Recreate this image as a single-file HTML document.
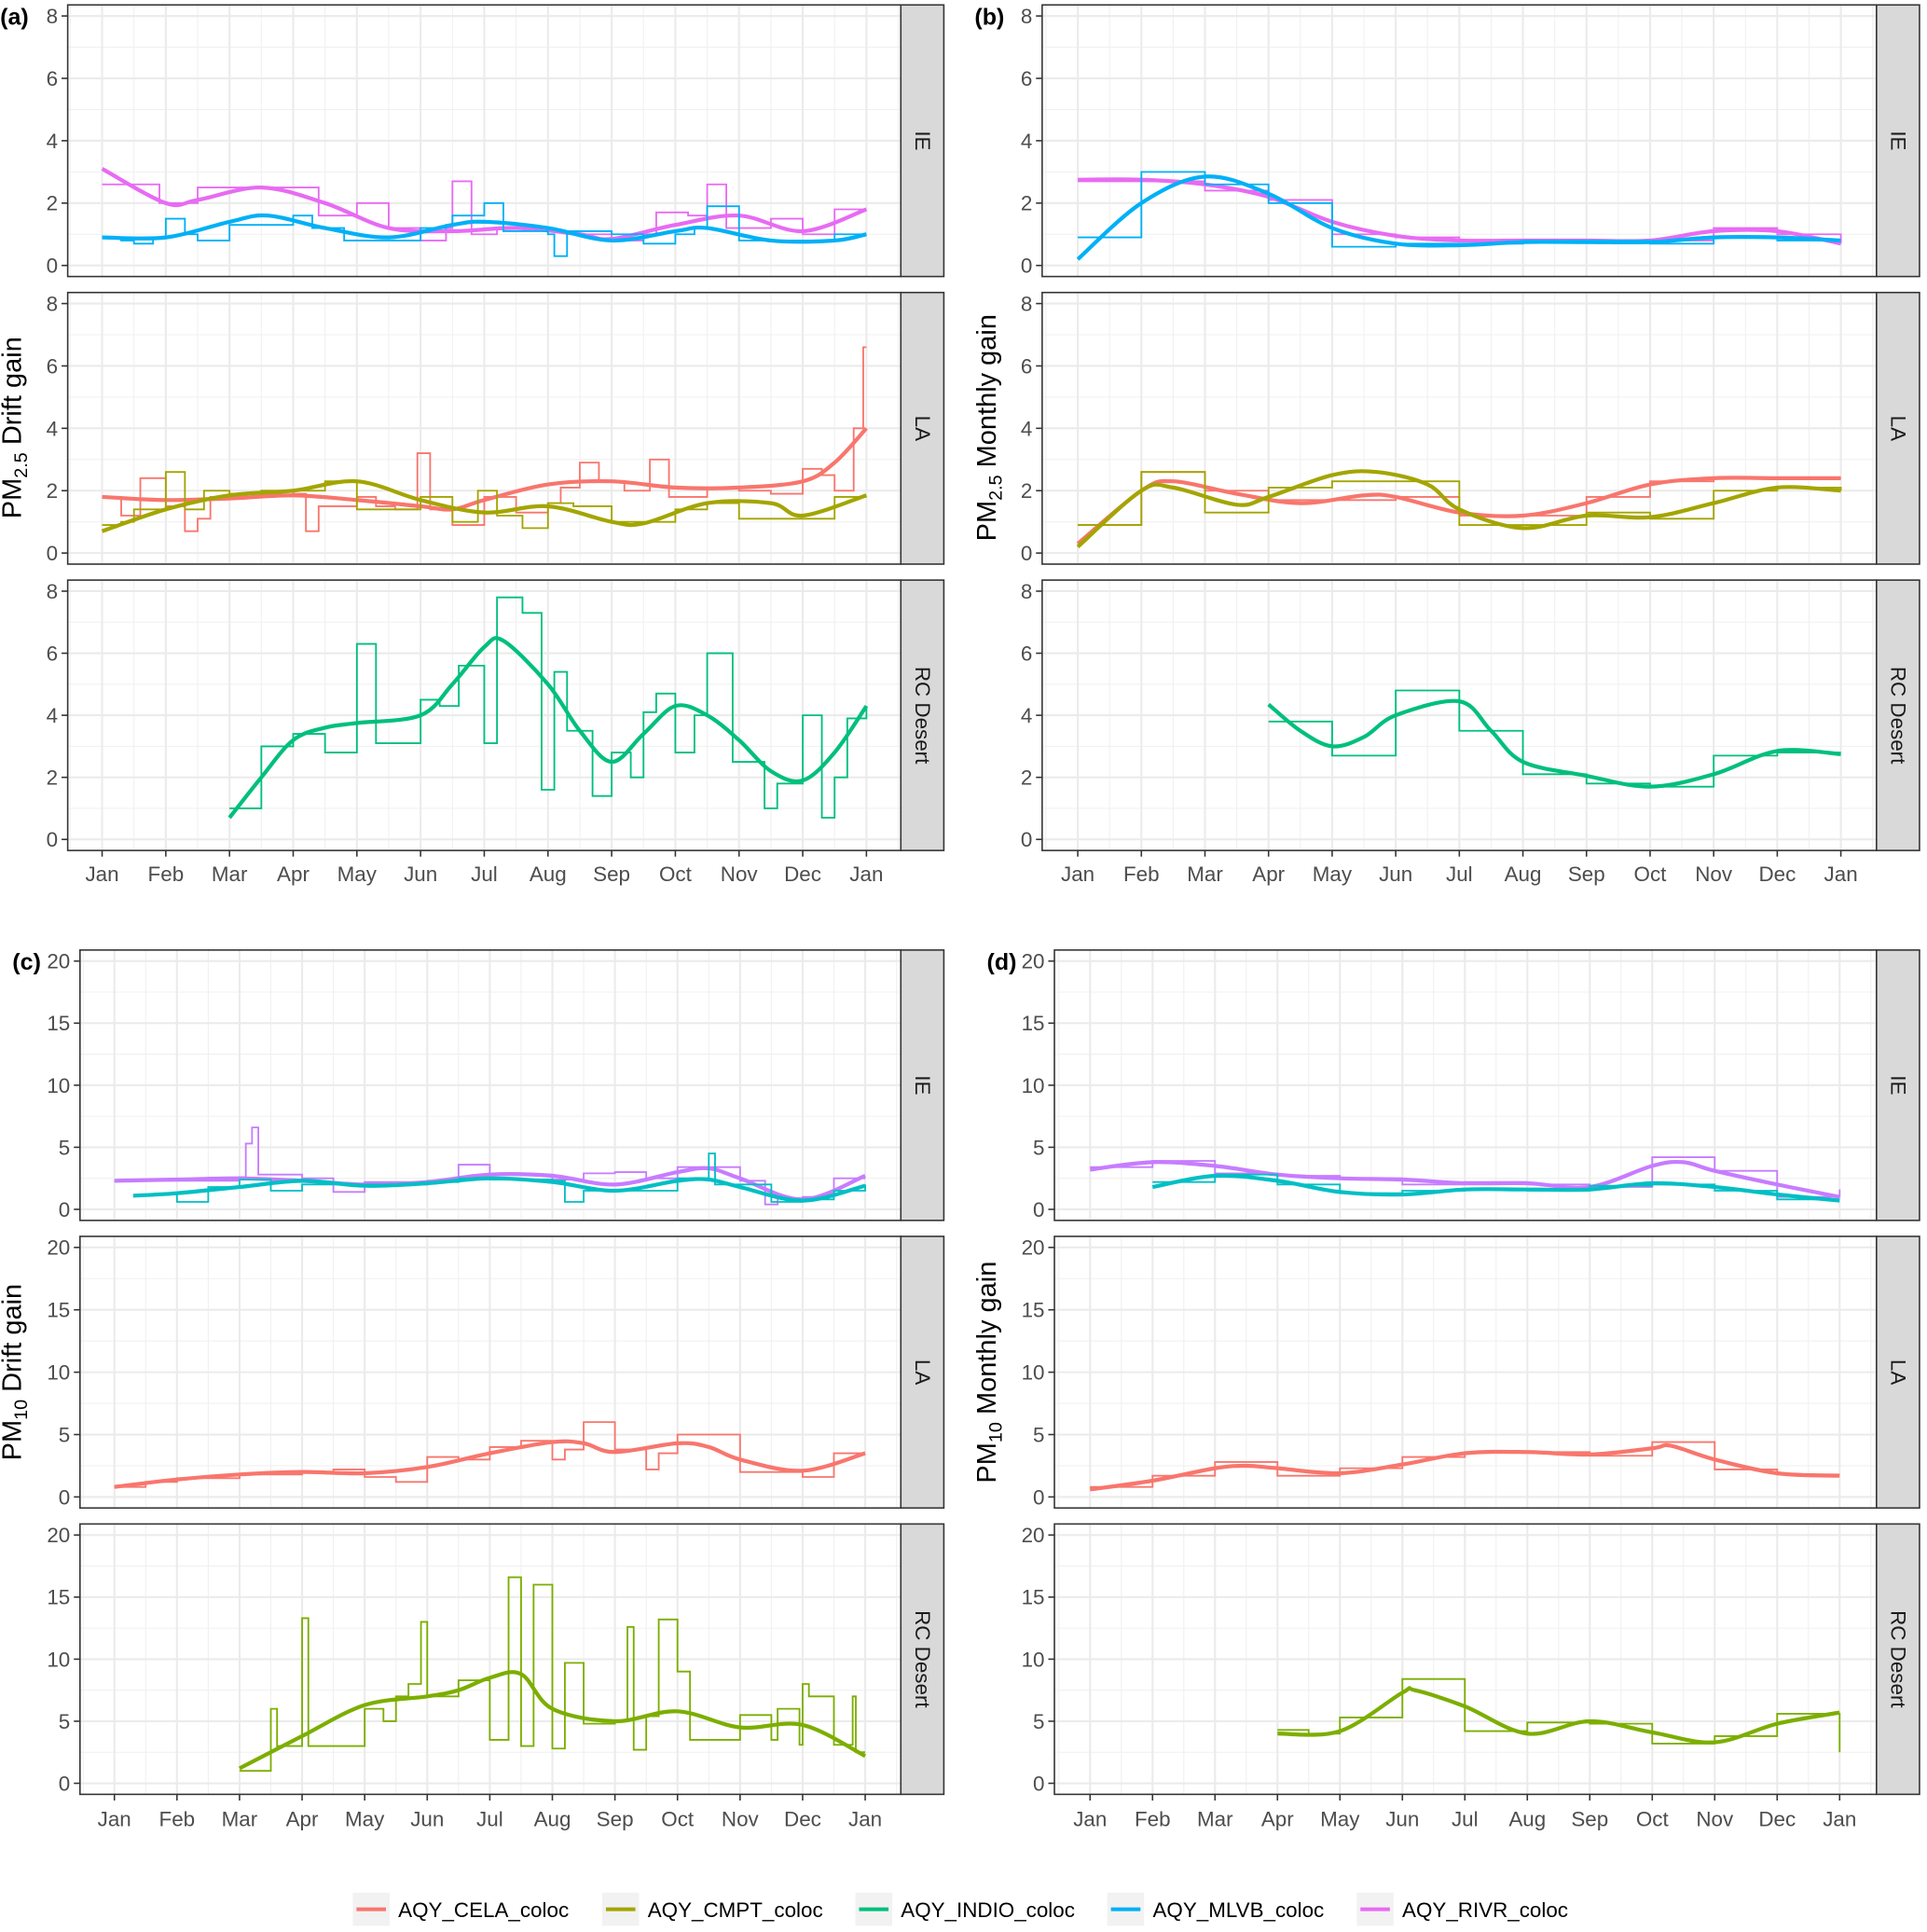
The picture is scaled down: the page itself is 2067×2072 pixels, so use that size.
<!DOCTYPE html>
<html><head><meta charset="utf-8">
<style>
html,body{margin:0;padding:0;background:#fff;}
svg{display:block;font-family:"Liberation Sans",Arial,sans-serif;}
</style></head>
<body>
<svg id="chart" width="2067" height="2072" viewBox="0 0 1568 1572" xmlns="http://www.w3.org/2000/svg"></svg>
<script>
// ---------- data (x in months from Jan = 0 .. 12) ----------
const monthLabels = ["Jan","Feb","Mar","Apr","May","Jun","Jul","Aug","Sep","Oct","Nov","Dec","Jan"];
const siteLabels = ["IE","LA","RC Desert"];
const seriesNames = ["AQY_CELA_coloc","AQY_CMPT_coloc","AQY_INDIO_coloc","AQY_MLVB_coloc","AQY_RIVR_coloc"];
const pm25Ticks = [0,2,4,6,8];
const pm10Ticks = [0,5,10,15,20];

// (a) PM2.5 drift
const aIeRivrStep = [[0,2.6],[0.9,2.0],[1.5,2.5],[2.5,2.5],[3.4,1.6],[4,2.0],[4.5,1.2],[5,0.8],[5.4,1.2],[5.5,2.7],[5.8,1.0],[6.2,1.2],[7,1.1],[7.5,1.0],[8,0.8],[8.5,1.0],[8.7,1.7],[9.2,1.6],[9.5,2.6],[9.8,1.2],[10.5,1.5],[11,1.0],[11.5,1.8],[12,1.8]];
const aIeRivrSmooth = [[0,3.1],[1,2.0],[1.5,2.1],[2.5,2.5],[3.5,2.0],[4.5,1.2],[5.5,1.1],[6.5,1.2],[7.5,1.0],[8,0.85],[9,1.3],[10,1.6],[11,1.1],[12,1.8]];
const aIeMlvbStep = [[0,0.9],[0.3,0.8],[0.5,0.7],[0.8,0.9],[1,1.5],[1.3,1.0],[1.5,0.8],[2,1.3],[3,1.6],[3.3,1.2],[3.8,0.8],[4.5,0.8],[5,1.2],[5.4,1.3],[5.5,1.6],[6,2.0],[6.3,1.1],[7,1.0],[7.1,0.3],[7.3,1.1],[8,1.0],[8.5,0.7],[9,1.0],[9.3,1.2],[9.5,1.9],[10,0.8],[11,0.8],[11.5,1.0],[12,1.0]];
const aIeMlvbSmooth = [[0,0.9],[1,0.9],[2,1.4],[2.6,1.6],[3.5,1.2],[4.5,0.9],[5.5,1.3],[6,1.4],[7,1.2],[8,0.8],[9,1.1],[9.5,1.2],[10.5,0.8],[11.5,0.8],[12,1.0]];
const aLaCelaStep = [[0,1.8],[0.3,1.2],[0.6,2.4],[1,1.5],[1.3,0.7],[1.5,1.1],[1.7,1.8],[2.5,2.0],[3,1.9],[3.2,0.7],[3.4,1.5],[4,1.8],[4.3,1.5],[4.6,1.4],[4.95,3.2],[5.15,1.4],[5.5,0.9],[6,1.8],[6.5,1.3],[7,1.6],[7.2,2.1],[7.5,2.9],[7.8,2.3],[8.2,2.0],[8.6,3.0],[8.9,1.8],[9.5,2.1],[10,2.0],[10.5,1.9],[11,2.7],[11.3,2.5],[11.5,2.0],[11.8,4.0],[11.95,6.6],[12,6.6]];
const aLaCelaSmooth = [[0,1.8],[1,1.7],[2,1.75],[3,1.85],[4,1.7],[5,1.5],[5.5,1.4],[6,1.7],[7,2.2],[8,2.3],[9,2.1],[10,2.1],[11,2.3],[11.5,2.9],[12,4.0]];
const aLaCmptStep = [[0,0.9],[0.3,1.0],[0.5,1.4],[1,2.6],[1.3,1.4],[1.6,2.0],[2,1.9],[2.5,2.0],[3.5,2.3],[4,1.4],[5,1.8],[5.5,1.0],[5.9,2.0],[6.2,1.2],[6.6,0.8],[7,1.6],[7.4,1.5],[8,1.0],[9,1.4],[9.5,1.6],[10,1.1],[11.5,1.8],[12,1.8]];
const aLaCmptSmooth = [[0,0.7],[1,1.4],[2,1.85],[3,2.0],[4,2.3],[5,1.7],[6,1.3],[7,1.5],[8,1.0],[8.5,0.95],[9.5,1.6],[10.5,1.6],[11,1.2],[12,1.85]];
const aRcIndioStep = [[2,1.0],[2.5,3.0],[3,3.4],[3.5,2.8],[4,6.3],[4.3,3.1],[5,4.5],[5.3,4.3],[5.6,5.6],[6,3.1],[6.2,7.8],[6.6,7.3],[6.9,1.6],[7.1,5.4],[7.3,3.5],[7.7,1.4],[8,2.8],[8.3,2.0],[8.5,4.1],[8.7,4.7],[9,2.8],[9.3,4.0],[9.5,6.0],[9.9,2.5],[10.4,1.0],[10.6,1.8],[11,4.0],[11.3,0.7],[11.5,2.0],[11.7,3.9],[12,4.3]];
const aRcIndioSmooth = [[2,0.7],[2.5,2.0],[3,3.2],[3.5,3.6],[4,3.75],[5,4.0],[5.5,5.0],[6,6.2],[6.3,6.4],[7,5.0],[7.5,3.5],[8,2.5],[8.5,3.4],[9,4.3],[9.5,4.0],[10,3.2],[10.5,2.2],[11,1.9],[11.5,2.8],[12,4.3]];

// (b) PM2.5 monthly
const bIeMlvbStep = [[0,0.9],[1,3.0],[2,2.6],[3,2.0],[4,0.6],[5,0.7],[6,0.7],[7,0.8],[8,0.8],[9,0.7],[10,0.9],[11,0.8],[12,0.8]];
const bIeMlvbSmooth = [[0,0.2],[1,2.0],[2,2.85],[3,2.3],[4,1.2],[5,0.7],[6,0.65],[7,0.75],[8,0.75],[9,0.75],[10,0.9],[11,0.9],[12,0.8]];
const bIeRivrStep = [[0,2.7],[1,2.7],[2,2.4],[3,2.1],[4,1.0],[5,0.9],[6,0.8],[7,0.8],[8,0.8],[9,0.8],[10,1.2],[11,1.0],[12,0.7]];
const bIeRivrSmooth = [[0,2.75],[1,2.75],[2,2.6],[3,2.2],[4,1.4],[5,0.95],[6,0.8],[7,0.8],[8,0.8],[9,0.8],[10,1.1],[11,1.1],[12,0.7]];
const bLaCelaStep = [[0,0.9],[1,2.6],[2,2.0],[3,1.7],[4,1.7],[5,1.8],[6,1.2],[7,1.2],[8,1.8],[9,2.3],[10,2.4],[11,2.4],[12,2.4]];
const bLaCelaSmooth = [[0,0.3],[1,2.0],[1.5,2.3],[2.5,1.9],[3.5,1.6],[4.5,1.85],[5,1.8],[6,1.3],[7,1.2],[8,1.6],[9,2.2],[10,2.4],[11,2.4],[12,2.4]];
const bLaCmptStep = [[0,0.9],[1,2.6],[2,1.3],[3,2.1],[4,2.3],[5,2.3],[6,0.9],[7,0.9],[8,1.3],[9,1.1],[10,2.0],[11,2.1],[12,2.0]];
const bLaCmptSmooth = [[0,0.2],[1,2.0],[1.5,2.1],[2.5,1.55],[3,1.8],[4,2.5],[4.7,2.6],[5.5,2.2],[6,1.4],[7,0.8],[8,1.2],[9,1.15],[10,1.6],[11,2.1],[12,2.0]];
const bRcIndioStep = [[3,3.8],[4,2.7],[5,4.8],[6,3.5],[7,2.1],[8,1.8],[9,1.7],[10,2.7],[11,2.8],[12,2.8]];
const bRcIndioSmooth = [[3,4.35],[3.5,3.5],[4,3.0],[4.5,3.3],[5,4.0],[6,4.45],[6.5,3.5],[7,2.5],[8,2.05],[9,1.7],[10,2.1],[11,2.85],[12,2.75]];

// (c) PM10 drift
const cIeRivrStep = [[0,2.3],[1,2.3],[2,2.6],[2.1,5.3],[2.2,6.6],[2.3,2.8],[3,2.5],[3.5,1.4],[4,2.2],[5,2.3],[5.5,3.6],[6,2.8],[7,2.4],[7.5,2.9],[8,3.0],[8.5,2.5],[9,3.4],[10,2.3],[10.4,0.4],[10.6,0.9],[11,1.0],[11.5,2.5],[12,2.5]];
const cIeRivrSmooth = [[0,2.3],[1,2.4],[2,2.5],[3,2.3],[4,2.0],[5,2.2],[6,2.8],[7,2.7],[8,2.0],[9,3.0],[9.5,3.3],[10,2.5],[11,0.8],[12,2.7]];
const cIeMlvbStep = [[0.5,1.2],[1,0.6],[1.5,1.8],[2,2.4],[2.5,1.5],[3,2.0],[4,2.0],[5,2.2],[5.5,2.5],[6,2.4],[7,2.3],[7.2,0.6],[7.5,1.5],[8,1.5],[8.5,1.5],[9,2.5],[9.5,4.5],[9.6,2.0],[10.5,0.6],[11,0.8],[11.5,1.5],[12,2.0]];
const cIeMlvbSmooth = [[0.3,1.1],[1,1.3],[2,1.8],[3,2.3],[4,1.9],[5,2.1],[6,2.5],[7,2.2],[8,1.5],[9,2.3],[9.5,2.4],[10,1.8],[11,0.7],[12,1.9]];
const cLaCelaStep = [[0,0.8],[0.5,1.2],[1,1.5],[1.5,1.5],[2,1.8],[3,2.0],[3.5,2.2],[4,1.6],[4.5,1.2],[5,3.2],[5.5,3.0],[6,4.0],[6.5,4.5],[7,3.0],[7.2,3.8],[7.5,6.0],[8,3.8],[8.5,2.2],[8.7,3.5],[9,5.0],[10,2.0],[11,1.6],[11.5,3.5],[12,3.5]];
const cLaCelaSmooth = [[0,0.8],[1,1.4],[2,1.8],[3,2.0],[4,1.9],[5,2.4],[6,3.5],[7,4.4],[7.5,4.3],[8,3.6],[9,4.3],[9.5,4.0],[10,3.0],[11,2.1],[12,3.5]];
const cRcCmptStep = [[2,1.0],[2.5,6.0],[2.6,3.0],[3,13.3],[3.1,3.0],[4,6.0],[4.3,5.0],[4.5,7.0],[4.7,8.0],[4.9,13.0],[5.0,7.0],[5.5,8.3],[6,3.5],[6.3,16.6],[6.5,3.0],[6.7,16.0],[7,2.8],[7.2,9.7],[7.5,4.8],[8,5.0],[8.2,12.6],[8.3,2.7],[8.5,5.4],[8.7,13.2],[9,9.0],[9.2,3.5],[10,5.5],[10.5,3.5],[10.6,6.0],[10.95,3.1],[11,8.0],[11.1,7.0],[11.5,3.1],[11.8,7.0],[11.85,2.5],[12,2.5]];
const cRcCmptSmooth = [[2,1.2],[3,3.8],[4,6.3],[5,7.0],[5.5,7.5],[6,8.5],[6.5,8.8],[7,6.0],[8,5.0],[9,5.8],[10,4.5],[11,4.7],[12,2.2]];

// (d) PM10 monthly
const dIeRivrStep = [[0,3.4],[1,3.9],[2,2.9],[3,2.7],[4,2.5],[5,2.0],[6,2.2],[7,2.0],[8,1.8],[9,4.2],[10,3.1],[11,1.0],[12,1.6]];
const dIeRivrSmooth = [[0,3.2],[1,3.8],[2,3.5],[3,2.8],[4,2.5],[5,2.4],[6,2.1],[7,2.1],[8,1.8],[9,3.5],[9.5,3.8],[10,3.1],[11,2.0],[12,1.0]];
const dIeMlvbStep = [[1,2.2],[2,2.8],[3,2.0],[4,1.3],[5,1.5],[6,1.6],[7,1.5],[8,1.9],[9,2.0],[10,1.5],[11,0.8],[12,0.8]];
const dIeMlvbSmooth = [[1,1.8],[2,2.7],[3,2.3],[4,1.4],[5,1.2],[6,1.6],[7,1.6],[8,1.6],[9,2.1],[10,1.8],[11,1.2],[12,0.7]];
const dLaCelaStep = [[0,0.8],[1,1.7],[2,2.8],[3,1.7],[4,2.3],[5,3.2],[6,3.6],[7,3.6],[8,3.3],[9,4.4],[10,2.2],[11,1.8],[12,1.8]];
const dLaCelaSmooth = [[0,0.6],[1,1.3],[2,2.3],[2.5,2.5],[3,2.3],[4,1.9],[5,2.6],[6,3.5],[7,3.6],[8,3.4],[9,3.9],[9.3,4.1],[10,3.0],[11,1.9],[12,1.7]];
const dRcCmptStep = [[3,4.3],[3.5,4.0],[4,5.3],[5,8.4],[6,4.2],[7,4.9],[8,4.8],[9,3.2],[10,3.8],[11,5.6],[12,5.6],[12,2.5]];
const dRcCmptSmooth = [[3,4.0],[4,4.2],[5,7.3],[5.2,7.5],[6,6.2],[7,4.0],[8,5.0],[9,4.1],[10,3.3],[11,4.8],[12,5.7]];

const COL = {CELA:"#F8766D",CMPT:"#A3A500",INDIO:"#00BF7D",MLVB:"#00B0F6",RIVR:"#E76BF3",CMPT10:"#7CAE00",RIVR10:"#C77CFF",MLVB10:"#00BFC4"};

// ---------- drawing ----------
const svg = document.getElementById('chart');
const NS = "http://www.w3.org/2000/svg";
function mk(tag, attrs, parent){ const e=document.createElementNS(NS,tag); for(const k in attrs) e.setAttribute(k,attrs[k]); (parent||svg).appendChild(e); return e; }

const columns = {
  a:{x0:55,x1:733,jan:83,dec:705,rows:[[4,225],[238,459],[472,692]],ymax:8,ticks:pm25Ticks,xl:711,tag:"(a)",title:"Drift gain",pm:"2.5"},
  b:{x0:848,x1:1527,jan:877,dec:1498,rows:[[4,225],[238,459],[472,692]],ymax:8,ticks:pm25Ticks,xl:711,tag:"(b)",title:"Monthly gain",pm:"2.5"},
  c:{x0:65,x1:733,jan:93,dec:704,rows:[[773,993],[1006,1227],[1240,1460]],ymax:20,ticks:pm10Ticks,xl:1480,tag:"(c)",title:"Drift gain",pm:"10"},
  d:{x0:858,x1:1527,jan:887,dec:1497,rows:[[773,993],[1006,1227],[1240,1460]],ymax:20,ticks:pm10Ticks,xl:1480,tag:"(d)",title:"Monthly gain",pm:"10"}
};
const panelSeries = {
  a:[[[aIeRivrStep,aIeRivrSmooth,COL.RIVR,"rivr"],[aIeMlvbStep,aIeMlvbSmooth,COL.MLVB,"mlvb"]],[[aLaCelaStep,aLaCelaSmooth,COL.CELA,"cela"],[aLaCmptStep,aLaCmptSmooth,COL.CMPT,"cmpt"]],[[aRcIndioStep,aRcIndioSmooth,COL.INDIO,"indio"]]],
  b:[[[bIeRivrStep,bIeRivrSmooth,COL.RIVR,"rivr"],[bIeMlvbStep,bIeMlvbSmooth,COL.MLVB,"mlvb"]],[[bLaCelaStep,bLaCelaSmooth,COL.CELA,"cela"],[bLaCmptStep,bLaCmptSmooth,COL.CMPT,"cmpt"]],[[bRcIndioStep,bRcIndioSmooth,COL.INDIO,"indio"]]],
  c:[[[cIeRivrStep,cIeRivrSmooth,COL.RIVR10,"rivr"],[cIeMlvbStep,cIeMlvbSmooth,COL.MLVB10,"mlvb"]],[[cLaCelaStep,cLaCelaSmooth,COL.CELA,"cela"]],[[cRcCmptStep,cRcCmptSmooth,COL.CMPT10,"cmpt"]]],
  d:[[[dIeRivrStep,dIeRivrSmooth,COL.RIVR10,"rivr"],[dIeMlvbStep,dIeMlvbSmooth,COL.MLVB10,"mlvb"]],[[dLaCelaStep,dLaCelaSmooth,COL.CELA,"cela"]],[[dRcCmptStep,dRcCmptSmooth,COL.CMPT10,"cmpt"]]]
};

function stepPath(data, xs, ys){
  let d="";
  for(let i=0;i<data.length;i++){
    const x=xs(data[i][0]), y=ys(data[i][1]);
    if(i===0){ d+="M"+x+","+y; }
    else { const py=ys(data[i-1][1]); d+="L"+x+","+py+"L"+x+","+y; }
  }
  return d;
}
function smoothPath(data, xs, ys){
  const p=data.map(q=>[xs(q[0]),ys(q[1])]);
  let d="M"+p[0][0]+","+p[0][1];
  for(let i=0;i<p.length-1;i++){
    const p0=p[Math.max(0,i-1)],p1=p[i],p2=p[i+1],p3=p[Math.min(p.length-1,i+2)];
    const c1=[p1[0]+(p2[0]-p0[0])/6,p1[1]+(p2[1]-p0[1])/6];
    const c2=[p2[0]-(p3[0]-p1[0])/6,p2[1]-(p3[1]-p1[1])/6];
    d+="C"+c1+" "+c2+" "+p2;
  }
  return d;
}

for(const key in columns){
  const c=columns[key];
  const xs=m=>c.jan+(c.dec-c.jan)*m/12;
  const g=mk('g',{});
  
  
  c.rows.forEach((r,ri)=>{
    const y0=r[0], y1=r[1];
    const ys=v=>(y1-9)-((y1-9)-(y0+9))*v/c.ymax;
    const pg=mk('g',{},g);
    
    
    mk('rect',{x:c.x0,y:y0,width:c.x1-c.x0,height:y1-y0,fill:"#fff"},pg);
    // grid
    const step=c.ticks[1]-c.ticks[0];
    for(let v=step/2; v<c.ymax; v+=step){ mk('line',{x1:c.x0,x2:c.x1,y1:ys(v),y2:ys(v),stroke:"#F0F0F0","stroke-width":0.8},pg); }
    for(let m=-0.5;m<=12.5;m+=1){ const x=xs(m); if(x>c.x0&&x<c.x1) mk('line',{x1:x,x2:x,y1:y0,y2:y1,stroke:"#F0F0F0","stroke-width":0.8},pg); }
    c.ticks.forEach(v=>{ mk('line',{x1:c.x0,x2:c.x1,y1:ys(v),y2:ys(v),stroke:"#EBEBEB","stroke-width":1.6},pg); });
    for(let m=0;m<=12;m++){ const x=xs(m); mk('line',{x1:x,x2:x,y1:y0,y2:y1,stroke:"#EBEBEB","stroke-width":1.6},pg); }
    // series
    panelSeries[key][ri].forEach(s=>{
      const st=mk('path',{d:stepPath(s[0],xs,ys),fill:"none",stroke:s[2],"stroke-width":1.4},pg);
      
      
      const sm=mk('path',{d:smoothPath(s[1],xs,ys),fill:"none",stroke:s[2],"stroke-width":3.2},pg);
      
      
    });
    mk('rect',{x:c.x0,y:y0,width:c.x1-c.x0,height:y1-y0,fill:"none",stroke:"#333","stroke-width":1.2},pg);
    // strip
    const sr=mk('rect',{x:c.x1,y:y0,width:35,height:y1-y0,fill:"#D9D9D9",stroke:"#333","stroke-width":1.2},pg);
    
    
    const cy=(y0+y1)/2, cx=c.x1+17.5;
    const st=mk('text',{x:cx,y:cy,transform:"rotate(90 "+cx+" "+cy+")","text-anchor":"middle","dominant-baseline":"central","font-size":17,fill:"#1A1A1A"},pg);
    st.textContent=siteLabels[ri];
    
    
    // y ticks
    c.ticks.forEach(v=>{
      mk('line',{x1:c.x0-5,x2:c.x0,y1:ys(v),y2:ys(v),stroke:"#333","stroke-width":1.2},pg);
      const t=mk('text',{x:c.x0-8,y:ys(v)+6,"text-anchor":"end","font-size":17,fill:"#4D4D4D"},pg);
      t.textContent=v;
      
      
    });
    if(ri===2){
      for(let m=0;m<=12;m++){
        const x=xs(m);
        mk('line',{x1:x,x2:x,y1:y1,y2:y1+5,stroke:"#333","stroke-width":1.2},pg);
        const t=mk('text',{x:x,y:c.xl+6,"text-anchor":"middle","font-size":17,fill:"#4D4D4D"},pg);
        t.textContent=monthLabels[m];
        
        
      }
    }
  });
  // tag
  const tg=mk('text',{x:c.x0-55,y:c.rows[0][0]+16,"font-size":19,"font-weight":"bold",fill:"#000"},g);
  tg.textContent=c.tag;
  
  
  // y title
  const ty=(c.rows[0][0]+c.rows[2][1])/2, tx=(key==='a'||key==='c')?17:810;
  const tt=mk('text',{x:tx,y:ty,transform:"rotate(-90 "+tx+" "+ty+")","text-anchor":"middle","font-size":22,fill:"#000"},g);
  
  
  const t1=mk('tspan',{},tt); t1.textContent="PM";
  const t2=mk('tspan',{"font-size":15,dy:5},tt); t2.textContent=c.pm;
  const t3=mk('tspan',{dy:-5},tt); t3.textContent=" "+c.title;
}

// legend
const legendX=[287,490,696,901,1104];
const legendCols=[COL.CELA,COL.CMPT,COL.INDIO,COL.MLVB,COL.RIVR];
const lg=mk('g',{});


seriesNames.forEach((n,i)=>{
  const eg=mk('g',{},lg);
  
  
  mk('rect',{x:legendX[i],y:1540,width:30,height:27,fill:"#F2F2F2"},eg);
  mk('line',{x1:legendX[i]+3,x2:legendX[i]+27,y1:1553.5,y2:1553.5,stroke:legendCols[i],"stroke-width":3},eg);
  const t=mk('text',{x:legendX[i]+37,y:1560,"font-size":17,fill:"#000"},eg);
  t.textContent=n;
});
</script>
</body></html>
